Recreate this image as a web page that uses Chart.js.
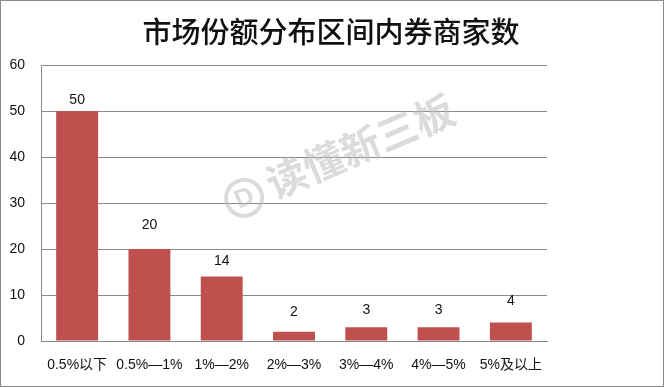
<!DOCTYPE html>
<html>
<head>
<meta charset="utf-8">
<script src="https://cdn.jsdelivr.net/npm/chart.js@4"></script>
<style>
  html, body { margin: 0; padding: 0; background: #fff; }
  #wrap { width: 664px; height: 387px; }
</style>
</head>
<body>
<div id="wrap"><canvas id="shareChart" width="664" height="387"></canvas></div>
<script>
// data
let chartTitle = '市场份额分布区间内券商家数';
let categories = ['0.5%以下', '0.5%—1%', '1%—2%', '2%—3%', '3%—4%', '4%—5%', '5%及以上'];
let brokerCounts = [50, 20, 14, 2, 3, 3, 4];
let yTicks = [0, 10, 20, 30, 40, 50, 60];

let labelFont = '"Liberation Sans", "Noto Sans CJK SC", sans-serif';

// white page, frame, title and the faint watermark
let backdrop = {
    id: 'backdrop',
    beforeDraw: function(chart) {
        let ctx = chart.ctx;
        ctx.save();
        ctx.fillStyle = '#fff';
        ctx.fillRect(0, 0, chart.width, chart.height);
        ctx.strokeStyle = '#8a8a8a';
        ctx.lineWidth = 1;
        ctx.strokeRect(0.5, 0.5, chart.width - 1, chart.height - 1);

        ctx.fillStyle = '#111';
        ctx.font = '500 29px "Noto Sans CJK SC", sans-serif';
        ctx.textAlign = 'center';
        ctx.textBaseline = 'middle';
        ctx.fillText(chartTitle, 331, 32);
        ctx.restore();
    },
    afterDatasetsDraw: function(chart) {
        let ctx = chart.ctx;
        ctx.save();
        ctx.translate(340, 155);
        ctx.rotate(-23 * Math.PI / 180);
        ctx.fillStyle = 'rgba(190,190,190,0.55)';
        ctx.strokeStyle = 'rgba(190,190,190,0.55)';
        ctx.font = 'bold 40px "Noto Sans CJK SC", sans-serif';
        ctx.textAlign = 'left';
        ctx.textBaseline = 'middle';
        ctx.fillText('读懂新三板', -78, 0);
        ctx.lineWidth = 4;
        ctx.beginPath();
        ctx.arc(-105, 2, 18, 0, Math.PI * 2);
        ctx.stroke();
        ctx.font = 'bold 26px "Liberation Sans", sans-serif';
        ctx.textAlign = 'center';
        ctx.fillText('D', -105, 3);
        ctx.restore();
    }
};

// value on top of each bar (the labels sit at uneven heights in the original)
let valueLift = [11, 24, 15, 20, 17, 17, 21];
let barValues = {
    id: 'barValues',
    afterDatasetsDraw: function(chart) {
        let ctx = chart.ctx;
        let meta = chart.getDatasetMeta(0);
        ctx.save();
        ctx.fillStyle = '#111';
        ctx.font = '14px ' + labelFont;
        ctx.textAlign = 'center';
        ctx.textBaseline = 'middle';
        meta.data.forEach(function(bar, i) {
            ctx.fillText(brokerCounts[i], bar.x, bar.y - valueLift[i]);
        });
        ctx.restore();
    }
};

new Chart(document.getElementById('shareChart'), {
    type: 'bar',
    data: {
        labels: categories,
        datasets: [{
            data: brokerCounts,
            backgroundColor: '#C0504D',
            borderWidth: 0,
            categoryPercentage: 1,
            barPercentage: 0.58
        }]
    },
    plugins: [backdrop, barValues],
    options: {
        responsive: false,
        animation: false,
        layout: { padding: { top: 65, right: 117, bottom: 0, left: 0 } },
        plugins: {
            legend: { display: false },
            tooltip: { enabled: false }
        },
        scales: {
            x: {
                grid: { display: false, drawTicks: false },
                border: { color: '#8a8a8a' },
                ticks: { color: '#111', font: { size: 14, family: labelFont }, padding: 16, maxRotation: 0, autoSkip: false },
                afterFit: function(scale) { scale.height = 46; }
            },
            y: {
                min: yTicks[0],
                max: yTicks[yTicks.length - 1],
                afterBuildTicks: function(scale) {
                    scale.ticks = yTicks.map(function(v) { return { value: v }; });
                },
                grid: { color: '#8a8a8a', drawTicks: false },
                border: { color: '#8a8a8a' },
                ticks: { color: '#111', font: { size: 14, family: labelFont }, padding: 16 },
                afterFit: function(scale) { scale.width = 41; }
            }
        }
    }
});
</script>
</body>
</html>
